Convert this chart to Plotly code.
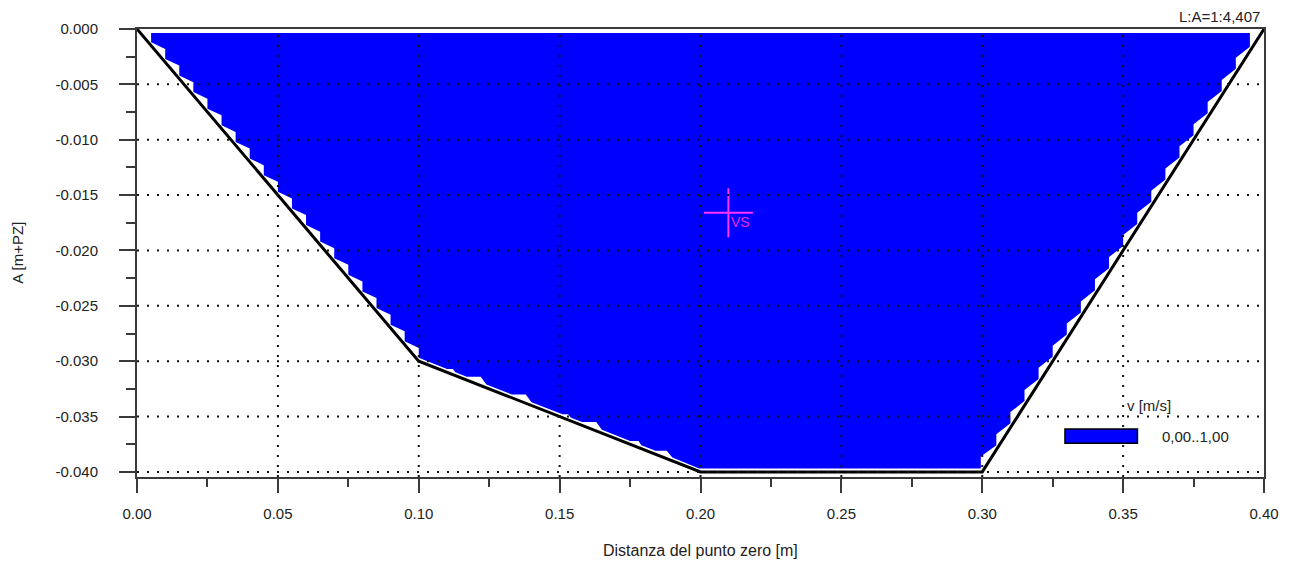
import plotly.graph_objects as go

# ---- data ----
prof_x = [0.0, 0.10, 0.20, 0.30, 0.40]
prof_y = [0.0, -0.030, -0.040, -0.040, 0.0]

# velocity area (mesh staircase) - left bank, top to bottom
blue_left_x = [0.005, 0.005, 0.010, 0.010, 0.015, 0.015, 0.020, 0.020, 0.025, 0.025,
               0.030, 0.030, 0.035, 0.035, 0.040, 0.040, 0.045, 0.045, 0.050, 0.050,
               0.055, 0.055, 0.060, 0.060, 0.065, 0.065, 0.070, 0.070, 0.075, 0.075,
               0.080, 0.080, 0.085, 0.085, 0.090, 0.090, 0.095, 0.095, 0.100, 0.100]
blue_left_y = [-0.00035, -0.0012, -0.0018, -0.0027, -0.0033, -0.0042, -0.0048, -0.0057, -0.0063, -0.0072,
               -0.0078, -0.0087, -0.0093, -0.0102, -0.0108, -0.0117, -0.0123, -0.0132, -0.0138, -0.0147,
               -0.0153, -0.0162, -0.0168, -0.0177, -0.0183, -0.0192, -0.0198, -0.0207, -0.0213, -0.0222,
               -0.0228, -0.0237, -0.0243, -0.0252, -0.0258, -0.0267, -0.0273, -0.0282, -0.0288, -0.0297]
# middle slope
blue_mid_x = [0.110, 0.1121, 0.113, 0.117, 0.122, 0.124, 0.133, 0.138, 0.140, 0.151, 0.153,
              0.154, 0.158, 0.163, 0.165, 0.175, 0.178, 0.179, 0.184, 0.188, 0.190, 0.1995]
blue_mid_y = [-0.0307, -0.0307, -0.0310, -0.0314, -0.0314, -0.0321, -0.0330, -0.0330, -0.0337, -0.0348, -0.0348,
              -0.0351, -0.0355, -0.0355, -0.0362, -0.0372, -0.0372, -0.0376, -0.0381, -0.0381, -0.0387, -0.0397]
# right bank, bottom to top
blue_right_x = [0.2995, 0.2995, 0.305, 0.305, 0.310, 0.310, 0.315, 0.315, 0.320, 0.320,
                0.325, 0.325, 0.330, 0.330, 0.335, 0.335, 0.340, 0.340, 0.345, 0.345,
                0.350, 0.350, 0.355, 0.355, 0.360, 0.360, 0.365, 0.365, 0.370, 0.370,
                0.375, 0.375, 0.380, 0.380, 0.385, 0.385, 0.390, 0.390, 0.395, 0.395]
blue_right_y = [-0.0397, -0.0386, -0.0376, -0.0366, -0.0356, -0.0346, -0.0336, -0.0326, -0.0316, -0.0306,
                -0.0296, -0.0286, -0.0276, -0.0266, -0.0256, -0.0246, -0.0236, -0.0226, -0.0216, -0.0206,
                -0.0196, -0.0186, -0.0176, -0.0166, -0.0156, -0.0146, -0.0136, -0.0126, -0.0116, -0.0106,
                -0.0096, -0.0086, -0.0076, -0.0066, -0.0056, -0.0046, -0.0036, -0.0026, -0.0016, -0.00035]

vs_x = [0.2099]
vs_y = [-0.0166]
vs_label = "VS"

x_tick_vals = [0.0, 0.05, 0.10, 0.15, 0.20, 0.25, 0.30, 0.35, 0.40]
x_tick_text = ["0.00", "0.05", "0.10", "0.15", "0.20", "0.25", "0.30", "0.35", "0.40"]
x_minor_vals = [0.025, 0.075, 0.125, 0.175, 0.225, 0.275, 0.325, 0.375]
y_tick_vals = [0.0, -0.005, -0.010, -0.015, -0.020, -0.025, -0.030, -0.035, -0.040]
y_tick_text = ["0.000", "-0.005", "-0.010", "-0.015", "-0.020", "-0.025", "-0.030", "-0.035", "-0.040"]
y_minor_vals = [-0.0025, -0.0075, -0.0125, -0.0175, -0.0225, -0.0275, -0.0325, -0.0375]

x_grid = [0.05, 0.10, 0.15, 0.20, 0.25, 0.30, 0.35]
y_grid = [-0.005, -0.010, -0.015, -0.020, -0.025, -0.030, -0.035, -0.040]

legend_title = "v [m/s]"
legend_label = "0,00..1,00"
scale_text = "L:A=1:4,407"
x_title = "Distanza del punto zero [m]"
y_title = "A [m+PZ]"

FONT = "Liberation Sans, Arial, sans-serif"
TXT = "#222222"
AX = "#3a3a3a"

fig = go.Figure()

fig.add_trace(go.Scatter(
    x=blue_left_x + blue_mid_x + blue_right_x,
    y=blue_left_y + blue_mid_y + blue_right_y,
    mode="lines", fill="toself", fillcolor="#0000ff",
    line=dict(width=0, color="#0000ff"), hoverinfo="skip", showlegend=False))

fig.add_trace(go.Scatter(
    x=prof_x, y=prof_y, mode="lines",
    line=dict(color="#000000", width=3), hoverinfo="skip", showlegend=False))

fig.add_trace(go.Scatter(
    x=vs_x, y=vs_y, mode="markers",
    marker=dict(symbol="cross-thin", size=35, line=dict(color="#ff33ff", width=2)),
    hoverinfo="skip", showlegend=False))

shapes = []
for gx in x_grid:
    shapes.append(dict(type="line", xref="x", yref="paper", x0=gx, x1=gx, y0=0, y1=1,
                       line=dict(color="#111111", width=2, dash="2px,8px"), layer="above"))
for gy in y_grid:
    shapes.append(dict(type="line", xref="paper", yref="y", x0=0, x1=1, y0=gy, y1=gy,
                       line=dict(color="#111111", width=2, dash="2px,8px"), layer="above"))
# legend swatch
shapes.append(dict(type="rect", xref="paper", yref="paper",
                   x0=0.8234, x1=0.8877, y0=0.0752, y1=0.1071,
                   fillcolor="#0000ff", line=dict(color="#000000", width=1.5), layer="above"))

annotations = [
    dict(text=legend_title, xref="paper", yref="paper", x=0.898, y=0.160,
         xanchor="center", yanchor="middle", showarrow=False,
         font=dict(family=FONT, size=15, color=TXT)),
    dict(text=legend_label, xref="paper", yref="paper", x=0.9077, y=0.0904,
         xanchor="left", yanchor="middle", showarrow=False,
         font=dict(family=FONT, size=15, color=TXT)),
    dict(text=scale_text, xref="paper", yref="paper", x=0.9982, y=1.029,
         xanchor="right", yanchor="middle", showarrow=False,
         font=dict(family=FONT, size=15, color=TXT)),
    dict(text=x_title, xref="paper", yref="paper", x=0.5, y=-0.163,
         xanchor="center", yanchor="middle", showarrow=False,
         font=dict(family=FONT, size=16, color=TXT)),
    dict(text=y_title, xref="paper", yref="paper", x=-0.1067, y=0.5, textangle=-90,
         xanchor="center", yanchor="middle", showarrow=False,
         font=dict(family=FONT, size=15, color=TXT)),
    dict(text=vs_label, x=vs_x[0], y=vs_y[0], xref="x", yref="y",
         xanchor="left", yanchor="middle", xshift=1, yshift=-9, showarrow=False,
         font=dict(family=FONT, size=14, color="#e030e0")),
]

fig.update_layout(
    width=1290, height=562, autosize=False,
    margin=dict(l=137, r=26, t=29, b=85, pad=0),
    plot_bgcolor="#ffffff", paper_bgcolor="#ffffff",
    showlegend=False,
    shapes=shapes, annotations=annotations,
    font=dict(family=FONT, size=15, color=TXT),
)

fig.update_xaxes(
    range=[0, 0.40], tickmode="array", tickvals=x_tick_vals, ticktext=x_tick_text,
    ticks="outside", ticklen=14, tickwidth=2, tickcolor=AX,
    minor=dict(tickvals=x_minor_vals, ticks="outside", ticklen=8, tickwidth=2, tickcolor=AX, showgrid=False),
    showgrid=False, zeroline=False, showline=True, linecolor=AX, linewidth=2, mirror=True,
    ticklabelstandoff=8, tickfont=dict(family=FONT, size=15, color=TXT), layer="above traces")

fig.update_yaxes(
    range=[-0.04046, 0], tickmode="array", tickvals=y_tick_vals, ticktext=y_tick_text,
    ticks="outside", ticklen=16, tickwidth=2, tickcolor=AX,
    minor=dict(tickvals=y_minor_vals, ticks="outside", ticklen=9, tickwidth=2, tickcolor=AX, showgrid=False),
    showgrid=False, zeroline=False, showline=True, linecolor=AX, linewidth=2, mirror=True,
    ticklabelstandoff=18, tickfont=dict(family=FONT, size=15, color=TXT), layer="above traces")

fig.write_html("out.html", config={"displayModeBar": False},
               post_script="document.body.style.margin='0';document.body.style.overflow='hidden';")
